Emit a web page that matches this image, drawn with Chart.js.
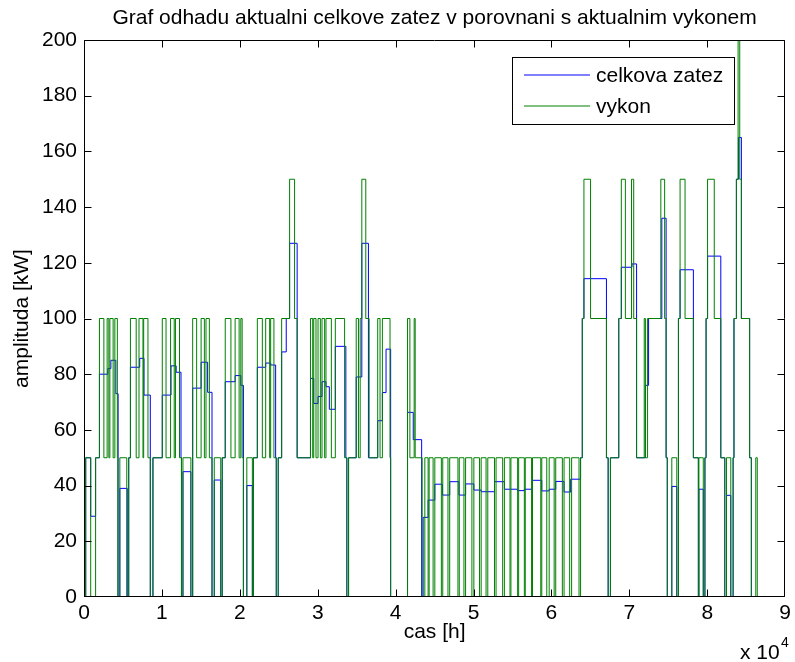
<!DOCTYPE html>
<html>
<head>
<meta charset="utf-8">
<script src="https://cdn.jsdelivr.net/npm/chart.js@4.4.0/dist/chart.umd.min.js"></script>
<style>
  html, body { margin: 0; padding: 0; background: #fff; }
  #c { display: block; }
</style>
</head>
<body>
<canvas id="c" width="795" height="662"></canvas>
<script>
// Texts
const titleText = 'Graf odhadu aktualni celkove zatez v porovnani s aktualnim vykonem';
const xLabel = 'cas [h]';
const yLabel = 'amplituda [kW]';
const seriesNames = ['celkova zatez', 'vykon'];

// Axis ticks
const xTicks = [0, 10000, 20000, 30000, 40000, 50000, 60000, 70000, 80000, 90000];
const xTickLabels = ['0', '1', '2', '3', '4', '5', '6', '7', '8', '9'];
const yTicks = [0, 20, 40, 60, 80, 100, 120, 140, 160, 180, 200];
const xExponent = '4';

// Estimated total load (step series: value holds from its time until the next one)
const loadTimes = [0,220,860,1490,1980,3060,3450,4090,4380,4600,5550,5740,5960,7150,7700,8510,8850,10050,11170,11830,12450,12510,12700,13720,13950,15030,15870,16430,16720,17550,17740,18130,19400,20130,20460,20900,21610,21740,22250,23320,23960,24600,24680,24930,25370,25960,26390,27360,29070,29490,30040,30550,31060,31490,32260,33610,33740,33960,34940,35660,36510,37700,38300,38770,39360,41530,42260,43340,43530,44170,45030,46000,46940,48130,48980,50040,50980,52690,53960,55660,56520,57570,58760,59710,60550,61620,62470,63740,63960,64170,67060,67280,67570,68640,68970,70340,70930,72060,72470,74170,74720,74870,75450,76090,76300,76510,78220,78860,78930,79490,79700,79850,80040,81740,82250,82470,83020,83320,83430,83740,84000,84380,85440,85660,86420];
const loadValues = [0,50,29,50,80,82,85,73,0,39,0,50,82.5,85.7,72.5,0,50,72.5,83,80.7,50,0,45,0,75,84.3,73.5,0,42,0,50,77.3,79.5,76,0,40,0,50,82.5,84,83.3,50,0,50,88,100,127,50,78.5,69.5,72,77.3,75.5,67.4,90,50,0,50,79,127,50,63.3,73.4,89,0,66.3,56.5,0,28.6,34.8,40.5,36.6,41.4,36.6,40.6,38.4,37.8,41.4,38.7,38.2,38.7,41.9,38.1,38.7,41.5,37.7,42.3,50,100,114.3,50,0,50,100,118.4,119.6,50,76,100,136,50,0,39.7,0,100,117.5,50,0,38.7,0,50,100,122.4,50,0,36.5,0,50,100,150,165,100,50,0,0];

// Actual power (step series)
const powerTimes = [0,220,860,1490,1980,2550,2970,3190,3320,3740,3960,4280,4340,4600,5490,5740,5960,6700,7060,7570,7660,8210,8510,8850,10050,10530,11110,11580,11740,12260,12510,12700,13720,13950,14460,15030,15450,15660,16090,16430,16720,17550,17740,18130,18860,19400,19910,20130,20300,20460,20900,21610,21740,22250,22890,23320,23830,23960,24380,24680,24930,25370,26390,27030,27360,29070,29360,29490,29780,30040,30340,30550,30890,31060,31750,32260,33450,33740,33960,34940,35230,35450,35660,36170,36600,37700,38000,38300,39280,39360,41530,41830,42380,42510,43400,43750,44170,44300,44810,45030,45870,46050,46720,46940,48000,48170,48770,48980,49790,50040,50770,50980,51610,51830,52690,52890,53740,53960,54680,54800,55660,55790,56520,56640,57450,57570,58630,58760,59400,59710,60350,60550,61400,61620,62340,62590,63540,63740,63960,64170,65020,67060,67280,67570,68640,68970,69490,70280,70560,70930,71910,72060,72340,74040,74530,74720,74870,75450,76090,76300,76510,77150,78220,78860,78930,79490,79700,79850,80040,80900,81740,82250,82470,83020,83320,83430,83740,83960,84170,84380,85440,85660,86230,86420];
const powerValues = [0,50,0,50,100,50,100,50,100,50,100,50,0,50,0,50,100,50,100,50,100,50,0,50,100,50,100,50,100,50,0,50,0,100,50,100,50,100,50,0,50,0,50,100,50,100,50,100,50,0,50,0,50,100,50,100,50,100,50,0,50,100,150,100,50,100,50,100,50,100,50,100,50,100,50,100,50,0,50,100,50,100,150,100,50,100,50,100,50,0,100,50,100,50,0,50,0,50,0,50,0,50,0,50,0,50,0,50,0,50,0,50,0,50,0,50,0,50,0,50,0,50,0,50,0,50,0,50,0,50,0,50,0,50,0,50,0,50,100,150,100,50,0,50,100,150,100,150,100,50,100,50,100,150,100,50,0,50,0,100,150,100,50,0,50,0,50,100,150,100,50,0,50,0,50,100,150,230,150,100,50,0,50,0];

const FONT = "'Liberation Sans', Arial, Helvetica, sans-serif";
const TEXT_SIZE = 21;

const toPoints = (ts, vs) => ts.map((t, i) => ({ x: t, y: vs[i] }));

// Boxed axes with inward ticks, inner legend and the x-axis multiplier
const framePlugin = {
  id: 'frame',
  afterDraw(chart) {
    const { ctx, chartArea: a, scales: { x, y } } = chart;
    const L = Math.round(a.left) + 0.5, R = Math.round(a.right) - 0.5;
    const T = Math.round(a.top) + 0.5, B = Math.round(a.bottom) - 0.5;
    const tickLen = 7;
    const clamp = (v, lo, hi) => Math.max(lo, Math.min(hi, v));
    ctx.save();
    ctx.strokeStyle = '#000';
    ctx.lineWidth = 1;
    ctx.beginPath();
    ctx.rect(L, T, R - L, B - T);
    xTicks.forEach(v => {
      const px = clamp(Math.round(x.getPixelForValue(v)) + 0.5, L, R);
      ctx.moveTo(px, B); ctx.lineTo(px, B - tickLen);
      ctx.moveTo(px, T); ctx.lineTo(px, T + tickLen);
    });
    yTicks.forEach(v => {
      const py = clamp(Math.round(y.getPixelForValue(v)) + 0.5, T, B);
      ctx.moveTo(L, py); ctx.lineTo(L + tickLen, py);
      ctx.moveTo(R, py); ctx.lineTo(R - tickLen, py);
    });
    ctx.stroke();

    // legend
    const box = { left: 512, top: 57, width: 222, height: 67 };
    ctx.fillStyle = '#fff';
    ctx.fillRect(box.left, box.top, box.width, box.height);
    ctx.strokeRect(box.left + 0.5, box.top + 0.5, box.width, box.height);
    ctx.font = TEXT_SIZE + 'px ' + FONT;
    ctx.textBaseline = 'middle';
    ctx.textAlign = 'left';
    chart.data.datasets.forEach((ds, i) => {
      const ly = 75 + i * 31;
      ctx.strokeStyle = ds.borderColor;
      ctx.beginPath();
      ctx.moveTo(524, ly);
      ctx.lineTo(590, ly);
      ctx.stroke();
      ctx.fillStyle = '#000';
      ctx.fillText(ds.label, 596, ly + 1);
    });

    // x-axis multiplier
    ctx.fillStyle = '#000';
    ctx.font = TEXT_SIZE + 'px ' + FONT;
    ctx.fillText('x 10', 740, 653);
    ctx.font = '14px ' + FONT;
    ctx.fillText(xExponent, 781, 643);
    ctx.restore();
  }
};

Chart.defaults.font.family = FONT;
Chart.defaults.color = '#000';

new Chart(document.getElementById('c'), {
  type: 'line',
  data: {
    datasets: [
      {
        label: seriesNames[0],
        data: toPoints(loadTimes, loadValues),
        borderColor: '#0000ff',
        borderWidth: 1,
        stepped: true,
        pointRadius: 0,
        fill: false,
        order: 1
      },
      {
        label: seriesNames[1],
        data: toPoints(powerTimes, powerValues),
        borderColor: '#008000',
        borderWidth: 1,
        stepped: true,
        pointRadius: 0,
        fill: false,
        order: 0
      }
    ]
  },
  options: {
    responsive: false,
    animation: false,
    devicePixelRatio: 1,
    layout: { padding: { top: 0, right: 6, bottom: 0, left: 0 } },
    plugins: {
      legend: { display: false },
      tooltip: { enabled: false },
      title: {
        display: true,
        text: titleText,
        fullSize: false,
        color: '#000',
        font: { size: TEXT_SIZE, weight: 'normal' },
        padding: { top: 5.4, bottom: 9.4 }
      }
    },
    scales: {
      x: {
        type: 'linear',
        min: 0,
        max: 90000,
        grid: { display: false, drawTicks: false },
        border: { display: false },
        afterBuildTicks: s => { s.ticks = xTicks.map(v => ({ value: v })); },
        ticks: {
          callback: (v, i) => xTickLabels[i],
          font: { size: TEXT_SIZE },
          padding: 4,
          maxRotation: 0,
          autoSkip: false
        },
        title: {
          display: true,
          text: xLabel,
          font: { size: TEXT_SIZE },
          padding: { top: 0, bottom: 17.4 }
        },
        afterFit: s => { s.height = 65; }
      },
      y: {
        type: 'linear',
        min: 0,
        max: 200,
        grid: { display: false, drawTicks: false },
        border: { display: false },
        afterBuildTicks: s => { s.ticks = yTicks.map(v => ({ value: v })); },
        ticks: {
          callback: v => String(v),
          font: { size: TEXT_SIZE },
          padding: 7,
          autoSkip: false
        },
        title: {
          display: true,
          text: yLabel,
          font: { size: TEXT_SIZE },
          padding: { top: 9.4, bottom: 0 }
        },
        afterFit: s => { s.width = 84; }
      }
    }
  },
  plugins: [framePlugin]
});
</script>
</body>
</html>
